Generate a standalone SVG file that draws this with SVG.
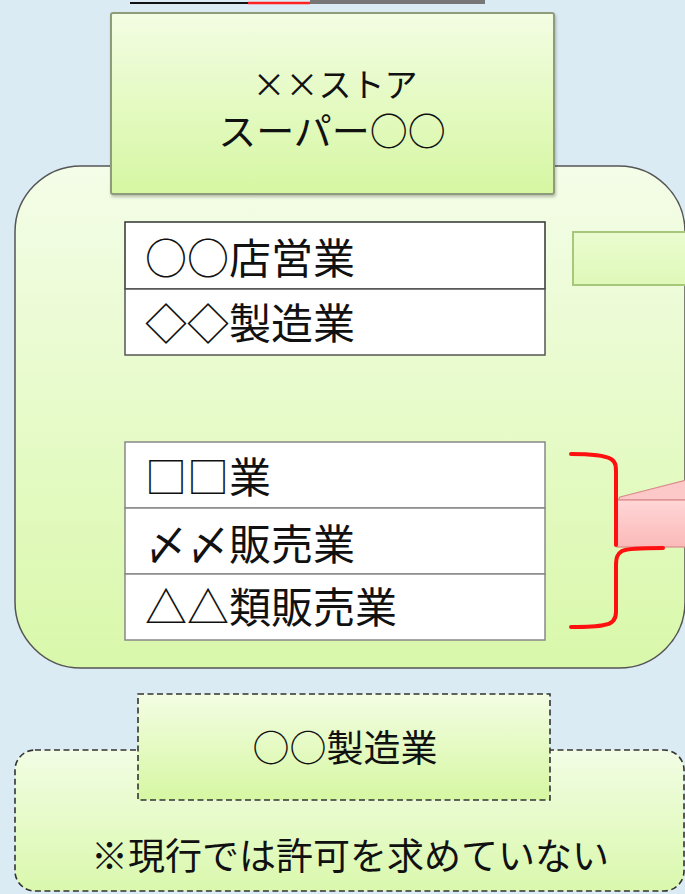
<svg xmlns="http://www.w3.org/2000/svg" width="685" height="894" viewBox="0 0 685 894">
<defs>
<linearGradient id="gTop" x1="0" y1="0" x2="0" y2="1"><stop offset="0" stop-color="#f3fde3"/><stop offset="1" stop-color="#d6f7a2"/></linearGradient>
<linearGradient id="gBig" x1="0" y1="0" x2="0" y2="1"><stop offset="0" stop-color="#f4fde8"/><stop offset="1" stop-color="#d9f8aa"/></linearGradient>
<linearGradient id="gSmall" x1="0" y1="0" x2="0" y2="1"><stop offset="0" stop-color="#eafcd0"/><stop offset="1" stop-color="#dff9b8"/></linearGradient>
<linearGradient id="gPink" x1="0" y1="0" x2="0" y2="1"><stop offset="0" stop-color="#ffd6d6"/><stop offset="1" stop-color="#fbb9b9"/></linearGradient>
<linearGradient id="gBot" x1="0" y1="0" x2="0" y2="1"><stop offset="0" stop-color="#f2fde4"/><stop offset="1" stop-color="#daf8ad"/></linearGradient>
<filter id="sh" x="-5%" y="-5%" width="110%" height="115%"><feDropShadow dx="1" dy="2" stdDeviation="1.5" flood-color="#000" flood-opacity="0.25"/></filter>
</defs>
<style>
text{font-family:"Noto Sans CJK JP","Noto Sans CJK SC",sans-serif;fill:#111}
.t{font-size:42px}
.h{font-size:38px}
.cell{fill:#fff}
.bracket{fill:none;stroke:#ff1010;stroke-width:4;stroke-linecap:round;stroke-linejoin:round}
.dash{stroke:#333;stroke-width:1.6;stroke-dasharray:6 3.5}
</style>
<rect width="685" height="894" fill="#dbebf4"/>

<g id="topstrip">
<rect x="310" y="0" width="175" height="4" fill="#777"/>
<line x1="130" y1="3" x2="248" y2="3" stroke="#111" stroke-width="2"/>
<line x1="248" y1="3" x2="310" y2="3" stroke="#ff2020" stroke-width="2.5"/>
</g>

<g id="container">
<rect x="15" y="166" width="670" height="502" rx="66" ry="66" fill="url(#gBig)" stroke="#555" stroke-width="1.5"/>
</g>

<g id="store">
<rect x="111" y="13" width="443" height="181" rx="2" fill="url(#gTop)" stroke="#8f9c7c" stroke-width="2" filter="url(#sh)"/>
<text x="335" y="97" text-anchor="middle" font-size="33">××ストア</text>
<text class="h" x="332" y="145" text-anchor="middle">スーパー○○</text>
</g>

<g id="side-box">
<rect x="573" y="232" width="120" height="53" fill="url(#gSmall)" stroke="#a7c77a" stroke-width="2"/>
</g>

<g id="table1">
<rect class="cell" x="125" y="222" width="420" height="67" stroke="#333" stroke-width="1.5"/>
<rect class="cell" x="125" y="289" width="420" height="66" stroke="#555" stroke-width="1.5"/>
<text class="t" x="145" y="274">○○店営業</text>
<text class="t" x="145" y="339">◇◇製造業</text>
</g>

<g id="table2">
<rect class="cell" x="125" y="442" width="420" height="66" stroke="#888" stroke-width="1.5"/>
<rect class="cell" x="125" y="508" width="420" height="66" stroke="#888" stroke-width="1.5"/>
<rect class="cell" x="125" y="574" width="420" height="66" stroke="#888" stroke-width="1.5"/>
<text class="t" x="145" y="493">□□業</text>
<text class="t" x="145" y="560">〆〆販売業</text>
<text class="t" x="145" y="623">△△類販売業</text>
</g>

<g id="connectors">
<path d="M620 497 L686 480 L686 500 L618 500 Z" fill="#fcc8c8" stroke="#d98a8a" stroke-width="1.2"/>
<rect x="617" y="500" width="70" height="47" fill="url(#gPink)" stroke="#d98a8a" stroke-width="1.2"/>
<path class="bracket" d="M571 454 C590 454 604 455 611 459 C616 462 616 466 616 474 L616 545"/>
<path class="bracket" d="M663 548 C645 548 628 548 622 551 C617 554 616 558 616 566 L616 612 C616 620 612 624 604 625 C596 627 585 627 571 627"/>
</g>

<g id="not-required">
<rect x="15" y="750" width="669" height="141" rx="20" ry="20" fill="url(#gBot)" class="dash"/>
<rect x="138" y="694" width="412" height="106" fill="url(#gTop)" class="dash"/>
<text x="345" y="762" text-anchor="middle" font-size="37">○○製造業</text>
<text x="350" y="870" text-anchor="middle" font-size="37">※現行では許可を求めていない</text>
</g>
</svg>
